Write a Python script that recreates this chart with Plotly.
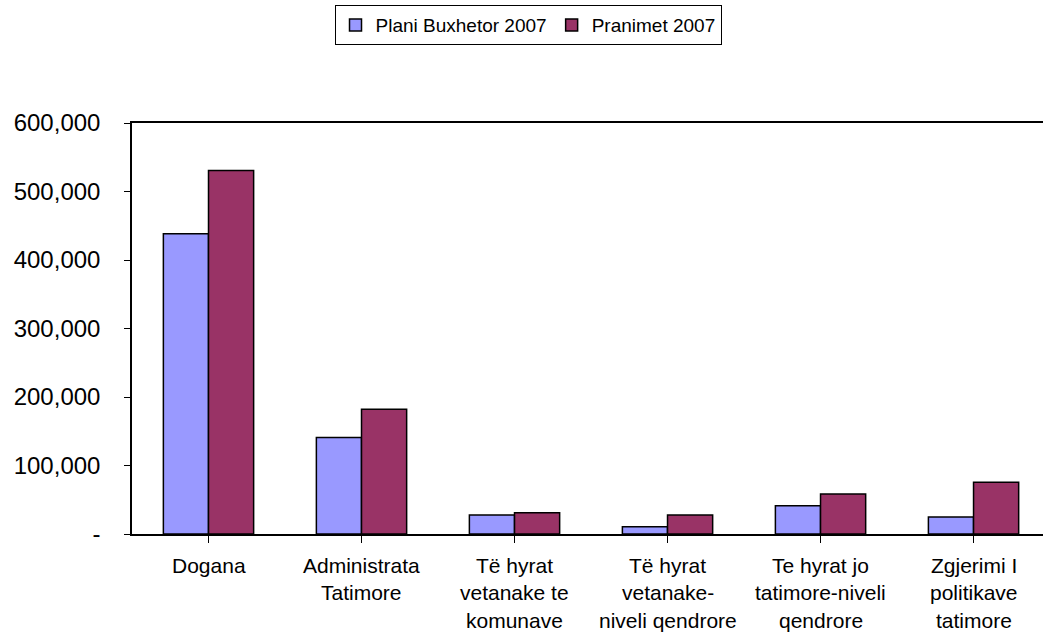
import plotly.graph_objects as go

categories = ["Dogana", "Administrata Tatimore", "Të hyrat vetanake te komunave",
              "Të hyrat vetanake-niveli qendrore", "Te hyrat jo tatimore-niveli qendrore",
              "Zgjerimi I politikave tatimore"]
label_lines = [["Dogana"], ["Administrata", "Tatimore"], ["Të hyrat", "vetanake te", "komunave"],
               ["Të hyrat", "vetanake-", "niveli qendrore"], ["Te hyrat jo", "tatimore-niveli", "qendrore"],
               ["Zgjerimi I", "politikave", "tatimore"]]
plani = [438500, 141000, 27700, 10500, 41300, 24800]
pranimet = [530500, 182000, 31000, 27700, 58300, 75500]
ytick_vals = [0, 100000, 200000, 300000, 400000, 500000, 600000]
ytick_text = ["-", "100,000", "200,000", "300,000", "400,000", "500,000", "600,000"]

FONT = "Liberation Sans, Arial, sans-serif"
xs = list(range(len(categories)))

fig = go.Figure()
fig.add_trace(go.Bar(x=xs, y=plani, name="Plani Buxhetor 2007",
                     marker=dict(color="#9999FF", line=dict(color="black", width=1.5))))
fig.add_trace(go.Bar(x=xs, y=pranimet, name="Pranimet 2007",
                     marker=dict(color="#993366", line=dict(color="black", width=1.5))))

annotations = []
for i, lines in enumerate(label_lines):
    for k, t in enumerate(lines):
        annotations.append(dict(x=i, y=0, xref="x", yref="paper", text=t, showarrow=False,
                                yanchor="middle", xanchor="center", yshift=-(31 + 27.5 * k),
                                font=dict(family=FONT, size=21, color="black")))

fig.update_layout(
    width=1043, height=633,
    margin=dict(l=132, r=0, t=123, b=99),
    paper_bgcolor="white", plot_bgcolor="white",
    barmode="group", bargap=0.41, bargroupgap=0,
    font=dict(family=FONT, color="black"),
    showlegend=True,
    legend=dict(orientation="h", x=0.4347, xanchor="center", y=1.287, yanchor="top",
                bgcolor="white", bordercolor="black", borderwidth=1,
                font=dict(family=FONT, size=19, color="black"), traceorder="normal"),
    xaxis=dict(range=[-0.5, 5.454], tickmode="array", tickvals=xs, ticktext=[""] * 6,
               tickson="boundaries", ticks="outside", ticklen=7, tickcolor="black",
               showline=True, linecolor="black", linewidth=1.5, mirror=True,
               showgrid=False, zeroline=False, automargin=False),
    yaxis=dict(range=[0, 600000], tickmode="array", tickvals=ytick_vals, ticktext=ytick_text,
               ticks="outside", ticklen=6, tickcolor="black", ticklabelstandoff=19,
               showline=True, linecolor="black", linewidth=1.5,
               showgrid=False, zeroline=False, automargin=False,
               tickfont=dict(family=FONT, size=24, color="black")),
    annotations=annotations,
)

fig.write_html("out.html", config={"displayModeBar": False},
               post_script="document.body.style.margin='0px';document.body.style.overflow='hidden';")
